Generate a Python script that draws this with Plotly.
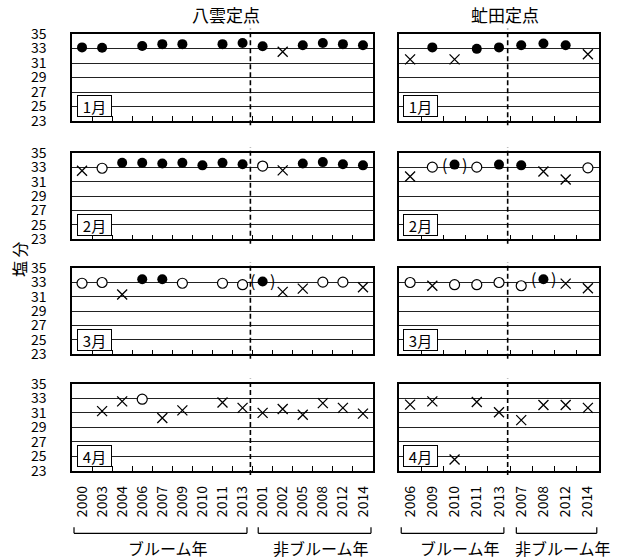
import plotly.graph_objects as go

# ---- data -------------------------------------------------------------
months = ["1月", "2月", "3月", "4月"]

yakumo_years = ["2000", "2003", "2004", "2006", "2007", "2009", "2010", "2011", "2013",
                "2001", "2002", "2005", "2008", "2012", "2014"]
yakumo_bloom_count = 9

abuta_years = ["2006", "2009", "2010", "2011", "2013", "2007", "2008", "2012", "2014"]
abuta_bloom_count = 5

# salinity values (None = no observation)
yakumo_jan = [33.15, 33.1, None, 33.35, 33.6, 33.6, None, 33.6, 33.75,
              33.3, 32.55, 33.45, 33.75, 33.6, 33.45]
yakumo_feb = [32.5, 32.85, 33.6, 33.6, 33.5, 33.6, 33.25, 33.6, 33.4,
              33.15, 32.55, 33.5, 33.7, 33.4, 33.25]
yakumo_mar = [32.85, 32.95, 31.3, 33.4, 33.4, 32.85, None, 32.85, 32.65,
              33.1, 31.65, 32.1, 33.0, 33.0, 32.3]
yakumo_apr = [None, 31.25, 32.6, 32.9, 30.3, 31.35, None, 32.45, 31.7,
              31.0, 31.55, 30.75, 32.35, 31.7, 30.9]

# marker kind: f = filled, p = filled in parentheses, o = open, x = cross
yakumo_jan_kind = "f f - f f f - f f f x f f f f".split()
yakumo_feb_kind = "x o f f f f f f f o x f f f f".split()
yakumo_mar_kind = "o o x f f o - o o p x x o o x".split()
yakumo_apr_kind = "- x x o x x - x x x x x x x x".split()

abuta_jan = [31.5, 33.15, 31.5, 32.95, 33.15, 33.45, 33.7, 33.45, 32.2]
abuta_feb = [31.7, 33.0, 33.35, 33.0, 33.35, 33.25, 32.4, 31.3, 32.9]
abuta_mar = [32.95, 32.5, 32.65, 32.65, 32.95, 32.5, 33.4, 32.8, 32.15]
abuta_apr = [32.15, 32.6, 24.55, 32.5, 31.1, 30.0, 32.1, 32.1, 31.7]

abuta_jan_kind = "x f x f f f f f x".split()
abuta_feb_kind = "x o p o f f x x o".split()
abuta_mar_kind = "o x o o o o p x x".split()
abuta_apr_kind = "x x x x x x x x x".split()

y_ticks = [23, 25, 27, 29, 31, 33, 35]

stations = [
    dict(name="八雲定点", years=yakumo_years, bloom=yakumo_bloom_count,
         values=[yakumo_jan, yakumo_feb, yakumo_mar, yakumo_apr],
         kinds=[yakumo_jan_kind, yakumo_feb_kind, yakumo_mar_kind, yakumo_apr_kind]),
    dict(name="虻田定点", years=abuta_years, bloom=abuta_bloom_count,
         values=[abuta_jan, abuta_feb, abuta_mar, abuta_apr],
         kinds=[abuta_jan_kind, abuta_feb_kind, abuta_mar_kind, abuta_apr_kind]),
]

# ---- layout geometry ----------------------------------------------------
W, H = 620, 560
FONT = "Noto Sans CJK JP"
col_px = [(72, 373), (399, 599)]
row_px = [(34, 121), (152.7, 239.4), (267.7, 354.4), (384, 470.7)]
title_x_px = [226, 505]
box_x = [0.0166, 0.0215]


def px_x(v):
    return v / W


def px_y(v):
    return 1 - v / H


marker_styles = {
    "filled": dict(symbol="circle", size=10, color="black", line=dict(width=0)),
    "open": dict(symbol="circle", size=10, color="white",
                 line=dict(color="black", width=1.2)),
    "cross": dict(symbol="x-thin", size=10, color="black",
                  line=dict(color="black", width=1.3)),
}
kind_group = {"f": "filled", "p": "filled", "o": "open", "x": "cross"}

fig = go.Figure()
layout = {}
annotations = []
shapes = []

for c, st in enumerate(stations):
    years = st["years"]
    n = len(years)
    nb = st["bloom"]
    for r in range(4):
        idx = r * 2 + c + 1
        xname = "x" if idx == 1 else f"x{idx}"
        yname = "y" if idx == 1 else f"y{idx}"
        vals = st["values"][r]
        kinds = st["kinds"][r]

        for group, style in marker_styles.items():
            ys = [v if (k != "-" and kind_group[k] == group) else None
                  for v, k in zip(vals, kinds)]
            fig.add_trace(go.Scatter(
                x=years, y=ys, mode="markers", marker=style,
                xaxis=xname, yaxis=yname, showlegend=False,
                hoverinfo="x+y", cliponaxis=False))

        # parentheses around tentative values (category index on x)
        for i, (v, k) in enumerate(zip(vals, kinds)):
            if k == "p":
                for txt, sh in (("(", -10), (")", 10)):
                    annotations.append(dict(
                        x=i, y=v, xref=xname, yref=yname, text=txt,
                        xanchor="center", yanchor="middle",
                        showarrow=False, xshift=sh, yshift=1,
                        font=dict(family=FONT, size=16, color="black")))

        x0, x1 = col_px[c]
        ytop, ybot = row_px[r]
        layout["xaxis" if idx == 1 else f"xaxis{idx}"] = dict(
            domain=[px_x(x0), px_x(x1)], anchor=yname,
            type="category", categoryorder="array", categoryarray=years,
            range=[-0.5, n - 0.5], tickson="boundaries",
            ticks="inside", ticklen=5, tickwidth=1, tickcolor="black",
            showgrid=False, zeroline=False,
            showline=True, linecolor="black", linewidth=1.5, mirror=True,
            showticklabels=(r == 3), tickangle=-90, ticklabelstandoff=8,
            tickfont=dict(family=FONT, size=14, color="black"),
            automargin=False, fixedrange=True)
        layout["yaxis" if idx == 1 else f"yaxis{idx}"] = dict(
            domain=[px_y(ybot), px_y(ytop)], anchor=xname,
            range=[23, 35], tickmode="array", tickvals=y_ticks,
            ticktext=[str(t) for t in y_ticks],
            showgrid=True, gridcolor="#222222", gridwidth=1, zeroline=False,
            showline=True, linecolor="black", linewidth=1.5, mirror=True,
            ticks="", showticklabels=(c == 0), ticklabelstandoff=21,
            tickfont=dict(family=FONT, size=14, color="black"),
            automargin=False, fixedrange=True)

        # bloom / non-bloom divider
        shapes.append(dict(
            type="line", xref=xname, yref=f"{yname} domain",
            x0=nb - 0.61, x1=nb - 0.61, y0=-0.05, y1=1.06,
            line=dict(color="black", width=1.6, dash="5px,3px"), layer="above"))

        # month label
        annotations.append(dict(
            x=box_x[c], y=0.043, xref=f"{xname} domain", yref=f"{yname} domain",
            xanchor="left", yanchor="bottom", text=months[r], showarrow=False,
            width=31, height=18, align="center", valign="middle",
            bgcolor="white", bordercolor="black", borderwidth=1, borderpad=1,
            font=dict(family=FONT, size=15, color="black")))

    # station title
    annotations.append(dict(
        x=px_x(title_x_px[c]), y=px_y(14), xref="paper", yref="paper",
        xanchor="center", yanchor="middle",
        text=st["name"], showarrow=False,
        font=dict(family=FONT, size=17, color="black")))

    # year-group brackets under the bottom row
    bx = "x7" if c == 0 else "x8"
    yb_top, yb_bot = px_y(527.3), px_y(533.3)
    groups = [(-0.4, nb - 0.78, "ブルーム年"), (nb - 0.22, n - 0.6, "非ブルーム年")]
    label_pos = [(-0.4 + nb - 0.78) / 2 + 0.35, (nb - 0.22 + n - 0.6) / 2 + 0.3]
    for (a, b, label), lx in zip(groups, label_pos):
        for sx0, sy0, sx1, sy1 in ((a, yb_top, a, yb_bot), (a, yb_bot, b, yb_bot),
                                   (b, yb_bot, b, yb_top)):
            shapes.append(dict(type="line", xref=bx, yref="paper",
                               x0=sx0, y0=sy0, x1=sx1, y1=sy1,
                               line=dict(color="black", width=1.2)))
        annotations.append(dict(
            x=lx, y=px_y(548), xref=bx, yref="paper", text=label,
            xanchor="center", yanchor="middle",
            showarrow=False, font=dict(family=FONT, size=16, color="black")))

# vertical axis title
annotations.append(dict(
    x=px_x(19), y=px_y(259), xref="paper", yref="paper", text="塩 分",
    xanchor="center", yanchor="middle",
    textangle=-90, showarrow=False,
    font=dict(family=FONT, size=16, color="black")))

fig.update_layout(
    **layout,
    width=W, height=H,
    margin=dict(l=0, r=0, t=0, b=0, pad=0, autoexpand=False),
    paper_bgcolor="white", plot_bgcolor="white",
    annotations=annotations, shapes=shapes,
    font=dict(family=FONT, color="black"),
    showlegend=False,
)

fig.write_html("out.html")
